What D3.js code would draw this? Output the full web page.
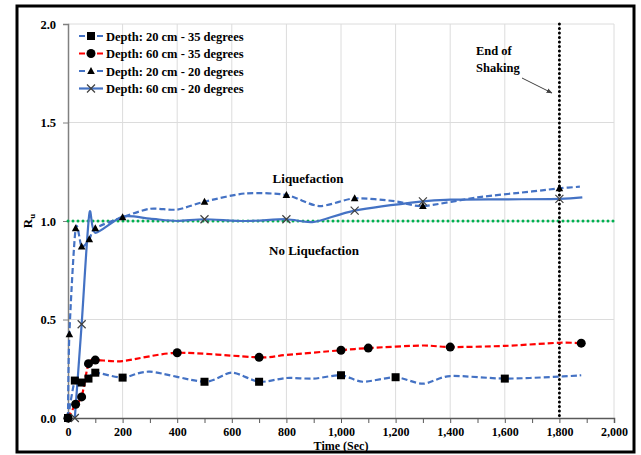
<!DOCTYPE html>
<html>
<head>
<meta charset="utf-8">
<script src="https://cdn.jsdelivr.net/npm/d3@7"></script>
<style>
  body { margin: 0; background: #fff; }
  text { font-family: "Liberation Serif", "Times New Roman", serif; font-weight: bold; }
</style>
</head>
<body>
<div id="chart"></div>
<script>
// R_u vs time, four depth / slope cases. m = 1 where the point has a marker
var s1Time = [0, 25, 50, 75, 100, 200, 300, 500, 600, 700, 800, 900, 1000, 1080, 1200, 1300, 1400, 1600, 1800, 1880];
var s1Ru   = [0, 0.19, 0.18, 0.2, 0.23, 0.205, 0.235, 0.184, 0.23, 0.184, 0.203, 0.2, 0.217, 0.184, 0.207, 0.174, 0.213, 0.2, 0.21, 0.217];
var s1Mark = [1, 1, 1, 1, 1, 1, 0, 1, 0, 1, 0, 0, 1, 0, 1, 0, 0, 1, 0, 0];

var s2Time = [0, 28, 50, 75, 100, 200, 400, 700, 800, 1000, 1100, 1300, 1400, 1600, 1800, 1880];
var s2Ru   = [0, 0.07, 0.107, 0.276, 0.294, 0.289, 0.331, 0.308, 0.32, 0.344, 0.355, 0.368, 0.36, 0.366, 0.382, 0.38];
var s2Mark = [1, 1, 1, 1, 1, 0, 1, 1, 0, 1, 1, 0, 1, 0, 0, 1];

var s3Time = [0, 5, 28, 50, 78, 100, 200, 300, 400, 500, 650, 800, 920, 1050, 1200, 1300, 1500, 1700, 1800, 1875];
var s3Ru   = [0, 0.425, 0.963, 0.87, 0.907, 0.963, 1.019, 1.062, 1.058, 1.098, 1.14, 1.132, 1.076, 1.115, 1.1, 1.076, 1.12, 1.15, 1.166, 1.174];
var s3Mark = [1, 1, 1, 1, 1, 1, 1, 0, 0, 1, 0, 1, 0, 1, 0, 1, 0, 0, 1, 0];

var s4Time = [25, 50, 78, 100, 200, 300, 400, 500, 650, 800, 900, 1050, 1300, 1400, 1600, 1800, 1884];
var s4Ru   = [0, 0.476, 1.035, 0.94, 1.022, 1.012, 1.0, 1.009, 1.0, 1.009, 0.995, 1.053, 1.1, 1.108, 1.11, 1.112, 1.12];
var s4Mark = [1, 1, 0, 0, 0, 0, 0, 1, 0, 1, 0, 1, 1, 0, 0, 1, 0];

var seriesNames = ['Depth: 20 cm - 35 degrees', 'Depth: 60 cm - 35 degrees', 'Depth: 20 cm - 20 degrees', 'Depth: 60 cm - 20 degrees'];
var xTicks = [0, 200, 400, 600, 800, 1000, 1200, 1400, 1600, 1800, 2000];
var yTicks = [0, 0.5, 1.0, 1.5, 2.0];
var liquefactionLevel = 1.0;
var endOfShaking = 1800;

var width = 641, height = 455;
var blue = '#4472c4', red = '#ff0000', green = '#00b050';

function zip(t, v, m) { return t.map((d, i) => ({t: d, v: v[i], m: m[i]})); }
var series = [
  {name: seriesNames[0], pts: zip(s1Time, s1Ru, s1Mark), color: blue, dash: '6,3', marker: 'square'},
  {name: seriesNames[1], pts: zip(s2Time, s2Ru, s2Mark), color: red, dash: '6,3', marker: 'circle'},
  {name: seriesNames[2], pts: zip(s3Time, s3Ru, s3Mark), color: blue, dash: '6,3', marker: 'triangle'},
  {name: seriesNames[3], pts: zip(s4Time, s4Ru, s4Mark), color: blue, dash: null, marker: 'x'}
];

var svg = d3.select('#chart').append('svg')
  .attr('width', width)
  .attr('height', height);

// outer frame
svg.append('rect')
  .attr('x', 17).attr('y', 6)
  .attr('width', 617).attr('height', 446)
  .attr('fill', 'none').attr('stroke', '#000').attr('stroke-width', 3);

var xScale = d3.scaleLinear().domain([0, 2000]).range([68, 614]);
var yScale = d3.scaleLinear().domain([0, 2]).range([418, 24]);

// gridlines
svg.append('g').selectAll('line').data(xTicks.slice(1)).enter().append('line')
  .attr('x1', d => xScale(d)).attr('x2', d => xScale(d))
  .attr('y1', yScale(0)).attr('y2', yScale(2))
  .attr('stroke', '#dcdcdc').attr('stroke-width', 1);
svg.append('g').selectAll('line').data(yTicks.slice(1)).enter().append('line')
  .attr('x1', xScale(0)).attr('x2', xScale(2000))
  .attr('y1', d => yScale(d)).attr('y2', d => yScale(d))
  .attr('stroke', '#dcdcdc').attr('stroke-width', 1);

// axes
var xAxis = d3.axisBottom(xScale)
  .tickValues(d3.range(0, 2001, 100))
  .tickSize(5)
  .tickFormat(d => xTicks.indexOf(d) >= 0 ? d3.format(',')(d) : '');
var gx = svg.append('g')
  .attr('transform', 'translate(0,' + yScale(0) + ')')
  .call(xAxis);
gx.select('.domain').attr('stroke', '#595959').attr('stroke-width', 1.5);
gx.selectAll('.tick line').attr('stroke', '#595959');
gx.selectAll('text').style('font-size', '12px').attr('fill', '#000')
  .attr('y', 18).attr('dy', null);

var yAxis = d3.axisLeft(yScale)
  .tickValues(yTicks)
  .tickSize(5)
  .tickFormat(d3.format('.1f'));
var gy = svg.append('g')
  .attr('transform', 'translate(' + xScale(0) + ',0)')
  .call(yAxis);
gy.select('.domain').attr('stroke', '#808080').attr('stroke-width', 1.5);
gy.selectAll('.tick line').attr('stroke', '#808080');
gy.selectAll('text').style('font-size', '12.5px').attr('fill', '#000').attr('x', -12);

// reference lines
svg.append('line')
  .attr('x1', xScale(0)).attr('x2', xScale(2000))
  .attr('y1', yScale(liquefactionLevel)).attr('y2', yScale(liquefactionLevel))
  .attr('stroke', green).attr('stroke-width', 3)
  .attr('stroke-dasharray', '0,5').attr('stroke-linecap', 'round');
svg.append('line')
  .attr('x1', xScale(endOfShaking)).attr('x2', xScale(endOfShaking))
  .attr('y1', yScale(2)).attr('y2', yScale(0))
  .attr('stroke', '#000').attr('stroke-width', 3)
  .attr('stroke-dasharray', '0,4.5').attr('stroke-linecap', 'round');

// series lines
var line = d3.line()
  .x(d => xScale(d.t))
  .y(d => yScale(d.v))
  .curve(d3.curveCardinal.tension(0.2));

var plot = svg.append('g');
series.forEach(function (s) {
  plot.append('path')
    .attr('d', line(s.pts))
    .attr('fill', 'none')
    .attr('stroke', s.color)
    .attr('stroke-width', 2.2)
    .attr('stroke-dasharray', s.dash);
});

function drawMarker(g, type, x, y) {
  if (type === 'square') {
    g.append('rect').attr('x', x - 4).attr('y', y - 4).attr('width', 8).attr('height', 8).attr('fill', '#000');
  } else if (type === 'circle') {
    g.append('circle').attr('cx', x).attr('cy', y).attr('r', 4.5).attr('fill', '#000');
  } else if (type === 'triangle') {
    g.append('path').attr('d', 'M' + x + ',' + (y - 4) + 'L' + (x + 3.8) + ',' + (y + 3) + 'L' + (x - 3.8) + ',' + (y + 3) + 'Z').attr('fill', '#000');
  } else {
    g.append('path').attr('d', 'M' + (x - 4) + ',' + (y - 4) + 'L' + (x + 4) + ',' + (y + 4) + 'M' + (x + 4) + ',' + (y - 4) + 'L' + (x - 4) + ',' + (y + 4))
      .attr('stroke', '#404040').attr('stroke-width', 1.2).attr('fill', 'none');
  }
}

series.forEach(function (s) {
  s.pts.filter(d => d.m).forEach(d => drawMarker(plot, s.marker, xScale(d.t), yScale(d.v)));
});

// legend
var legend = svg.append('g').attr('transform', 'translate(79,36)');
series.forEach(function (s, i) {
  var g = legend.append('g').attr('transform', 'translate(0,' + (i * 17.5) + ')');
  g.append('line').attr('x1', 0).attr('x2', 24).attr('y1', 0).attr('y2', 0)
    .attr('stroke', s.color).attr('stroke-width', 2.2)
    .attr('stroke-dasharray', s.dash ? '6,12' : null);
  drawMarker(g, s.marker, 12, 0);
  g.append('text').attr('x', 27).attr('y', 4.5).style('font-size', '12.5px').text(s.name);
});

// annotations
svg.append('text').attr('x', 308).attr('y', 183).attr('text-anchor', 'middle').style('font-size', '13px').text('Liquefaction');
svg.append('text').attr('x', 314).attr('y', 255).attr('text-anchor', 'middle').style('font-size', '13px').text('No Liquefaction');
svg.append('text').attr('x', 476).attr('y', 55).style('font-size', '12.5px').text('End of');
svg.append('text').attr('x', 476).attr('y', 72).style('font-size', '12.5px').text('Shaking');

svg.append('defs').append('marker')
  .attr('id', 'arrow').attr('viewBox', '0 0 10 10')
  .attr('refX', 9).attr('refY', 5)
  .attr('markerWidth', 6).attr('markerHeight', 6)
  .attr('orient', 'auto')
  .append('path').attr('d', 'M0,1L10,5L0,9Z').attr('fill', '#404040');
svg.append('line')
  .attr('x1', 522).attr('y1', 78).attr('x2', 552).attr('y2', 93)
  .attr('stroke', '#404040').attr('stroke-width', 1)
  .attr('marker-end', 'url(#arrow)');

// axis titles
var ry = svg.append('text')
  .attr('transform', 'translate(32,' + yScale(1) + ') rotate(-90)')
  .attr('text-anchor', 'middle').style('font-size', '13px');
ry.append('tspan').text('R');
ry.append('tspan').attr('dy', 3).style('font-size', '9px').text('u');

svg.append('text').attr('x', 341).attr('y', 450).attr('text-anchor', 'middle').style('font-size', '12px').text('Time (Sec)');
</script>
</body>
</html>
